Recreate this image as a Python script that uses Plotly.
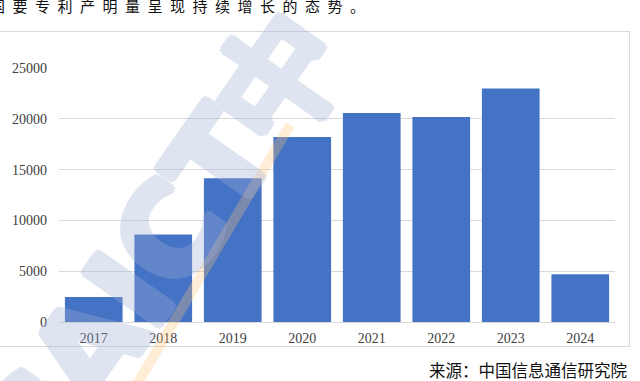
import plotly.graph_objects as go

years = ["2017", "2018", "2019", "2020", "2021", "2022", "2023", "2024"]
patents = [2460, 8620, 14150, 18200, 20570, 20170, 22970, 4700]
y_ticks = [0, 5000, 10000, 15000, 20000, 25000]

W, H = 640, 381
ML, MR, MT, MB = 59, 25, 68, 59
PW, PH = W - ML - MR, H - MT - MB


def px(x):
    return (x - ML) / PW


def py(y):
    return (H - MB - y) / PH


fig = go.Figure()
fig.add_trace(go.Bar(x=years, y=patents, marker=dict(color="#4472C4", line=dict(width=0))))

top_text = "国要专利产明量呈现持续增长的态势。"
top_text = "\u2002".join(top_text)

wm = "rgb(160,176,214)"
shadow = ", ".join(f"{dx}px {dy}px 0 {wm}" for dx, dy in
                   [(4, 0), (-4, 0), (0, 4), (0, -4), (3, 3), (-3, -3), (3, -3), (-3, 3)])

fig.update_layout(
    width=W, height=H,
    margin=dict(l=ML, r=MR, t=MT, b=MB, autoexpand=False),
    paper_bgcolor="white", plot_bgcolor="white",
    bargap=0.17,
    showlegend=False,
    xaxis=dict(
        type="category", showgrid=False, zeroline=False, showline=False, automargin=False,
        ticks="", tickfont=dict(family="Liberation Serif", size=14, color="#404040"),
        ticklabelstandoff=6,
    ),
    yaxis=dict(
        range=[0, 25000], tickvals=y_ticks, ticktext=[str(v) for v in y_ticks],
        showgrid=True, gridcolor="#d9d9d9", gridwidth=1, automargin=False,
        zeroline=True, zerolinecolor="#d9d9d9", zerolinewidth=1,
        showline=False, ticks="",
        tickfont=dict(family="Liberation Serif", size=14, color="#404040"),
        ticklabelstandoff=11,
    ),
    shapes=[
        dict(type="rect", xref="paper", yref="paper",
             x0=px(-5), x1=px(629.5), y0=py(346.5), y1=py(31.5),
             line=dict(color="#d9d9d9", width=1.2), fillcolor="rgba(0,0,0,0)", layer="below"),
        dict(type="line", xref="paper", yref="paper",
             x0=px(290), y0=py(125), x1=px(136), y1=py(386),
             line=dict(color="rgba(255,195,120,0.30)", width=10), layer="above"),
    ],
    annotations=[
        dict(text=top_text, xref="paper", yref="paper", x=px(-12), y=py(5),
             xanchor="left", yanchor="middle", showarrow=False,
             font=dict(family="Noto Sans CJK SC", size=15, color="#111111")),
        dict(text="来源：中国信息通信研究院", xref="paper", yref="paper",
             x=px(629), y=py(370), xanchor="right", yanchor="middle", showarrow=False,
             font=dict(family="Noto Sans CJK SC", size=16.5, color="#111111")),
        dict(text="<b>CAICT中</b>", xref="paper", yref="paper",
             x=px(162), y=py(244), xanchor="center", yanchor="middle", showarrow=False,
             textangle=-55, opacity=0.33,
             font=dict(family="DejaVu Sans", size=125, color=wm, shadow=shadow)),
    ],
)

fig.write_html(
    "out.html",
    config={"displayModeBar": False},
    post_script="document.body.style.margin='0';document.body.style.padding='0';",
)
